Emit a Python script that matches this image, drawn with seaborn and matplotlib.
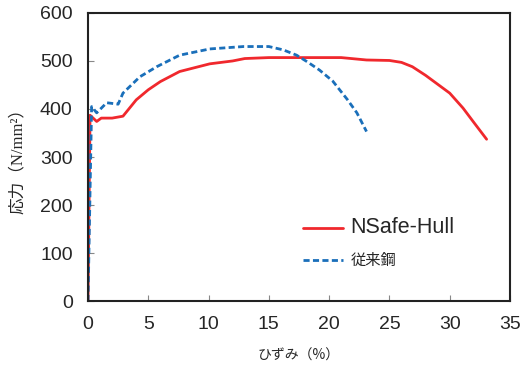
import matplotlib
matplotlib.use("Agg")
import matplotlib.pyplot as plt
import pandas as pd
import seaborn as sns

# stress-strain curves
nsafe_strain = [0.0, 0.17, 0.72, 1.1, 2.0, 2.9, 4.0, 5.0, 6.0, 7.6, 10.1, 12.0,
                13.0, 15.0, 20.0, 21.0, 23.1, 25.0, 26.0, 26.9, 28.0, 30.0,
                31.1, 32.0, 33.06]
nsafe_stress = [0, 387, 374, 381, 381, 385, 419, 440, 457, 478, 494, 500,
                505, 507, 507, 507, 502, 501, 497, 488, 470, 433,
                402, 372, 337]
conv_strain = [0.0, 0.3, 0.72, 1.55, 2.5, 2.9, 4.3, 5.7, 7.6, 10.1, 12.9,
               15.0, 16.2, 17.3, 18.2, 19.2, 20.3, 21.5, 22.3, 23.1]
conv_stress = [0, 405, 392, 413, 410, 433, 467, 488, 512, 525, 530,
               530, 523, 512, 498, 481, 458, 420, 392, 353]

sns.set_style("ticks")
plt.rcParams["font.family"] = ["Liberation Sans", "Noto Sans CJK JP", "DejaVu Sans"]

df = pd.concat([
    pd.DataFrame({"strain": nsafe_strain, "stress": nsafe_stress, "steel": "NSafe-Hull"}),
    pd.DataFrame({"strain": conv_strain, "stress": conv_stress, "steel": "従来鋼"}),
])

fig = plt.figure(figsize=(5.22, 3.69), dpi=100)
ax = fig.add_axes([0.1686, 0.184, 0.8084, 0.781])
sns.lineplot(data=df, x="strain", y="stress", hue="steel", style="steel",
             palette={"NSafe-Hull": "#f0282d", "従来鋼": "#1a6fba"},
             dashes={"NSafe-Hull": "", "従来鋼": (2.2, 1.2)},
             sort=False, estimator=None, linewidth=2.0, ax=ax)

ax.set_xlim(0, 35)
ax.set_ylim(0, 600)
ax.set_xticks(range(0, 36, 5))
ax.set_yticks(range(0, 601, 100))
ax.tick_params(direction="in", length=4, width=0.8, color="#888888",
               labelsize=14, pad=11)
for s in ax.spines.values():
    s.set_linewidth(1.5)
    s.set_color("#222222")

ax.set_xlabel("ひずみ（%）", fontsize=10, labelpad=11,
              family=["Noto Sans CJK JP", "DejaVu Sans"])
ax.set_ylabel("応力（N/mm²）", fontsize=12, labelpad=10,
              family=["Liberation Serif", "Noto Sans CJK JP", "DejaVu Sans"])

leg = ax.legend(loc="upper left", bbox_to_anchor=(0.48, 0.335), frameon=False,
                handlelength=2.9, labelspacing=1.0, handletextpad=0.5)
leg.texts[0].set_fontsize(15.5)
leg.texts[1].set_fontsize(11)
leg.texts[1].set_family(["Noto Sans CJK JP", "DejaVu Sans"])

fig.savefig("out.png", dpi=100)
